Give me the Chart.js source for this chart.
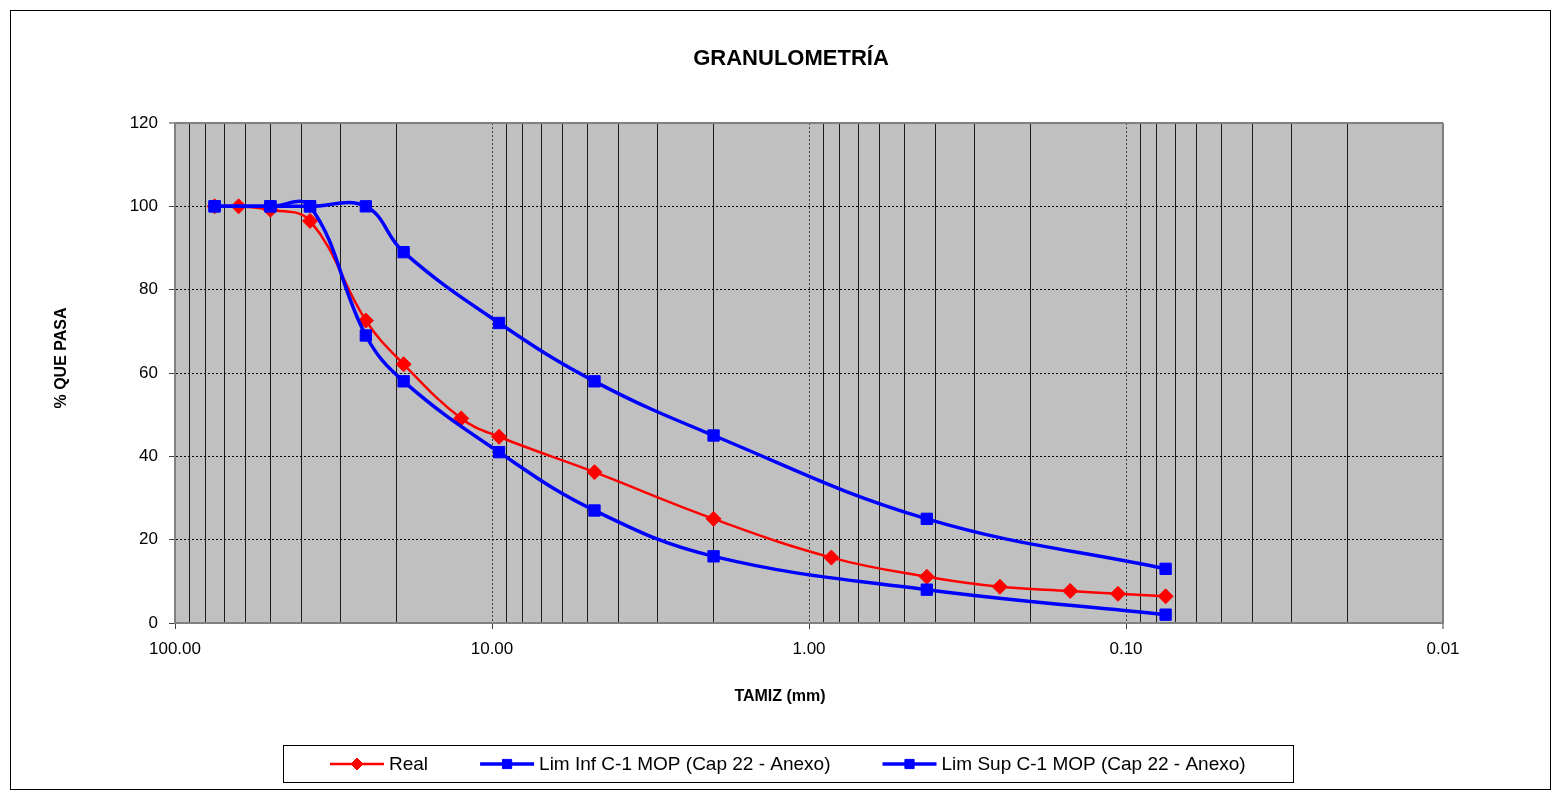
<!DOCTYPE html>
<html>
<head>
<meta charset="utf-8">
<script src="https://cdn.jsdelivr.net/npm/chart.js@4.4.0/dist/chart.umd.min.js"></script>
<style>
  html, body { margin: 0; padding: 0; background: #fff; }
  canvas { display: block; }
</style>
</head>
<body>
<canvas id="granChart" width="1561" height="798"></canvas>
<script>
// datos (tamiz en mm, % que pasa)
var tamices = [75, 63, 50, 37.5, 25, 19, 12.5, 9.5, 4.75, 2, 0.85, 0.425, 0.25, 0.15, 0.106, 0.075];
var pasaReal = [100, 100, 99.2, 96.5, 72.6, 62.1, 49.1, 44.7, 36.2, 25.0, 15.7, 11.1, 8.7, 7.7, 7.0, 6.4];
var tamicesLim = [75, 50, 37.5, 25, 19, 9.5, 4.75, 2, 0.425, 0.075];
var limInf = [100, 100, 100, 69, 58, 41, 27, 16, 8, 2];
var limSup = [100, 100, 100, 100, 89, 72, 58, 45, 25, 13];

// ejes
var xDecadas = [100, 10, 1, 0.1, 0.01];
var xMenores = [2, 3, 4, 5, 6, 7, 8, 9];
var yTicks = [0, 20, 40, 60, 80, 100, 120];

var FUENTE = "'Liberation Sans', Arial, Helvetica, sans-serif";

function esDecada(v) {
  var l = Math.log10(v);
  return Math.abs(l - Math.round(l)) < 1e-6;
}

// lineas de division: decadas + 2..9 de cada decada
var xGrid = xDecadas.slice();
xDecadas.forEach(function (d) {
  if (d > 0.01) {
    xMenores.forEach(function (m) { xGrid.push(+(m * d / 10).toPrecision(6)); });
  }
});
xGrid.sort(function (a, b) { return a - b; });

function puntos(xs, ys) {
  return xs.map(function (x, i) { return { x: x, y: ys[i] }; });
}

// fondo blanco, marco exterior y area gris
var fondo = {
  id: 'fondo',
  beforeDraw: function (chart) {
    var ctx = chart.ctx, a = chart.chartArea;
    ctx.save();
    ctx.fillStyle = '#fff';
    ctx.fillRect(0, 0, chart.width, chart.height);
    ctx.strokeStyle = '#000';
    ctx.lineWidth = 1;
    ctx.strokeRect(10.5, 10.5, 1540, 779);
    ctx.fillStyle = '#c0c0c0';
    ctx.fillRect(a.left, a.top, a.right - a.left, a.bottom - a.top);
    ctx.restore();
  }
};

// titulos
var textos = {
  id: 'textos',
  afterDraw: function (chart) {
    var ctx = chart.ctx;
    ctx.save();
    ctx.fillStyle = '#000';
    ctx.textAlign = 'center';
    ctx.textBaseline = 'middle';
    ctx.font = 'bold 22px ' + FUENTE;
    ctx.fillText('GRANULOMETRÍA', 791, 59);
    ctx.font = 'bold 16px ' + FUENTE;
    ctx.fillText('TAMIZ (mm)', 780, 697);
    ctx.translate(62, 358);
    ctx.rotate(-Math.PI / 2);
    ctx.fillText('% QUE PASA', 0, 0);
    ctx.restore();
  }
};

// leyenda con recuadro (linea + marcador)
var leyenda = {
  id: 'leyenda',
  afterDraw: function (chart) {
    var ctx = chart.ctx;
    var dsets = chart.data.datasets;
    var simb = 54, sep = 5, gap = 52, pad = 47;
    ctx.save();
    ctx.font = '19px ' + FUENTE;
    var anchos = dsets.map(function (ds) { return simb + sep + ctx.measureText(ds.label).width; });
    var total = anchos.reduce(function (s, w) { return s + w; }, 0) + gap * (dsets.length - 1);
    var cx = 788, cy = 764;
    var x = Math.round(cx - total / 2);
    ctx.fillStyle = '#fff';
    ctx.fillRect(x - pad, cy - 19, total + 2 * pad, 37);
    ctx.strokeStyle = '#000';
    ctx.lineWidth = 1;
    ctx.strokeRect(x - pad + 0.5, cy - 18.5, Math.round(total + 2 * pad), 37);
    dsets.forEach(function (ds, i) {
      ctx.strokeStyle = ds.borderColor;
      ctx.lineWidth = ds.borderWidth;
      ctx.beginPath();
      ctx.moveTo(x, cy);
      ctx.lineTo(x + simb, cy);
      ctx.stroke();
      ctx.fillStyle = ds.backgroundColor;
      ctx.lineWidth = 1;
      Chart.helpers.drawPoint(ctx, { pointStyle: ds.pointStyle, radius: ds.pointStyle === 'rect' ? 6.5 : 6, rotation: 0, borderWidth: 1 }, x + simb / 2, cy);
      ctx.fillStyle = '#000';
      ctx.textAlign = 'left';
      ctx.textBaseline = 'middle';
      ctx.fillText(ds.label, x + simb + sep, cy + 1);
      x += anchos[i] + gap;
    });
    ctx.restore();
  }
};

new Chart(document.getElementById('granChart'), {
  type: 'line',
  data: {
    datasets: [
      {
        label: 'Real',
        data: puntos(tamices, pasaReal),
        borderColor: '#ff0000',
        backgroundColor: '#ff0000',
        borderWidth: 2.5,
        pointStyle: 'rectRot',
        pointRadius: 7.5,
        pointBorderWidth: 1,
        tension: 0.4,
        order: 1
      },
      {
        label: 'Lim Inf C-1 MOP (Cap 22 - Anexo)',
        data: puntos(tamicesLim, limInf),
        borderColor: '#0000ff',
        backgroundColor: '#0000ff',
        borderWidth: 3.5,
        pointStyle: 'rect',
        pointRadius: 8,
        pointBorderWidth: 1,
        tension: 0.4
      },
      {
        label: 'Lim Sup C-1 MOP (Cap 22 - Anexo)',
        data: puntos(tamicesLim, limSup),
        borderColor: '#0000ff',
        backgroundColor: '#0000ff',
        borderWidth: 3.5,
        pointStyle: 'rect',
        pointRadius: 8,
        pointBorderWidth: 1,
        tension: 0.4
      }
    ]
  },
  options: {
    responsive: false,
    animation: false,
    layout: { padding: { left: 10, top: 123, right: 118, bottom: 10 } },
    plugins: {
      legend: { display: false },
      title: { display: false },
      tooltip: { enabled: false }
    },
    scales: {
      x: {
        type: 'logarithmic',
        reverse: true,
        min: 0.01,
        max: 100,
        afterBuildTicks: function (s) {
          s.ticks = xGrid.map(function (v) { return { value: v }; });
        },
        afterFit: function (s) { s.height = 165; },
        ticks: {
          autoSkip: false,
          maxRotation: 0,
          minRotation: 0,
          padding: 10,
          color: '#000',
          font: { family: FUENTE, size: 17 },
          callback: function (v) { return esDecada(v) ? Number(v).toFixed(2) : ''; }
        },
        grid: {
          color: function (c) {
            if (!c.tick) return '#000';
            if (c.tick.value === 0.01) return '#808080';
            return esDecada(c.tick.value) ? '#404040' : '#1a1a1a';
          },
          lineWidth: function (c) { return c.tick && c.tick.value === 0.01 ? 2 : 1; },
          tickLength: 6,
          tickWidth: 1,
          tickColor: function (c) { return c.tick && esDecada(c.tick.value) ? '#404040' : 'rgba(0,0,0,0)'; }
        },
        border: {
          color: '#808080',
          width: 2,
          dash: function (c) {
            return c.tick && esDecada(c.tick.value) && c.tick.value > 0.01 && c.tick.value < 100 ? [2, 2] : [];
          }
        }
      },
      y: {
        min: 0,
        max: 120,
        afterBuildTicks: function (s) {
          s.ticks = yTicks.map(function (v) { return { value: v }; });
        },
        afterFit: function (s) { s.width = 165; },
        ticks: {
          padding: 11,
          color: '#000',
          font: { family: FUENTE, size: 17 }
        },
        grid: {
          color: function (c) { return c.tick && c.tick.value === 120 ? '#808080' : '#000'; },
          lineWidth: function (c) { return c.tick && c.tick.value === 120 ? 2 : 1; },
          tickLength: 6,
          tickWidth: 1,
          tickColor: '#404040'
        },
        border: {
          color: '#808080',
          width: 2,
          dash: function (c) {
            return c.tick && c.tick.value > 0 && c.tick.value < 120 ? [2, 2] : [];
          }
        }
      }
    }
  },
  plugins: [fondo, textos, leyenda]
});
</script>
</body>
</html>
